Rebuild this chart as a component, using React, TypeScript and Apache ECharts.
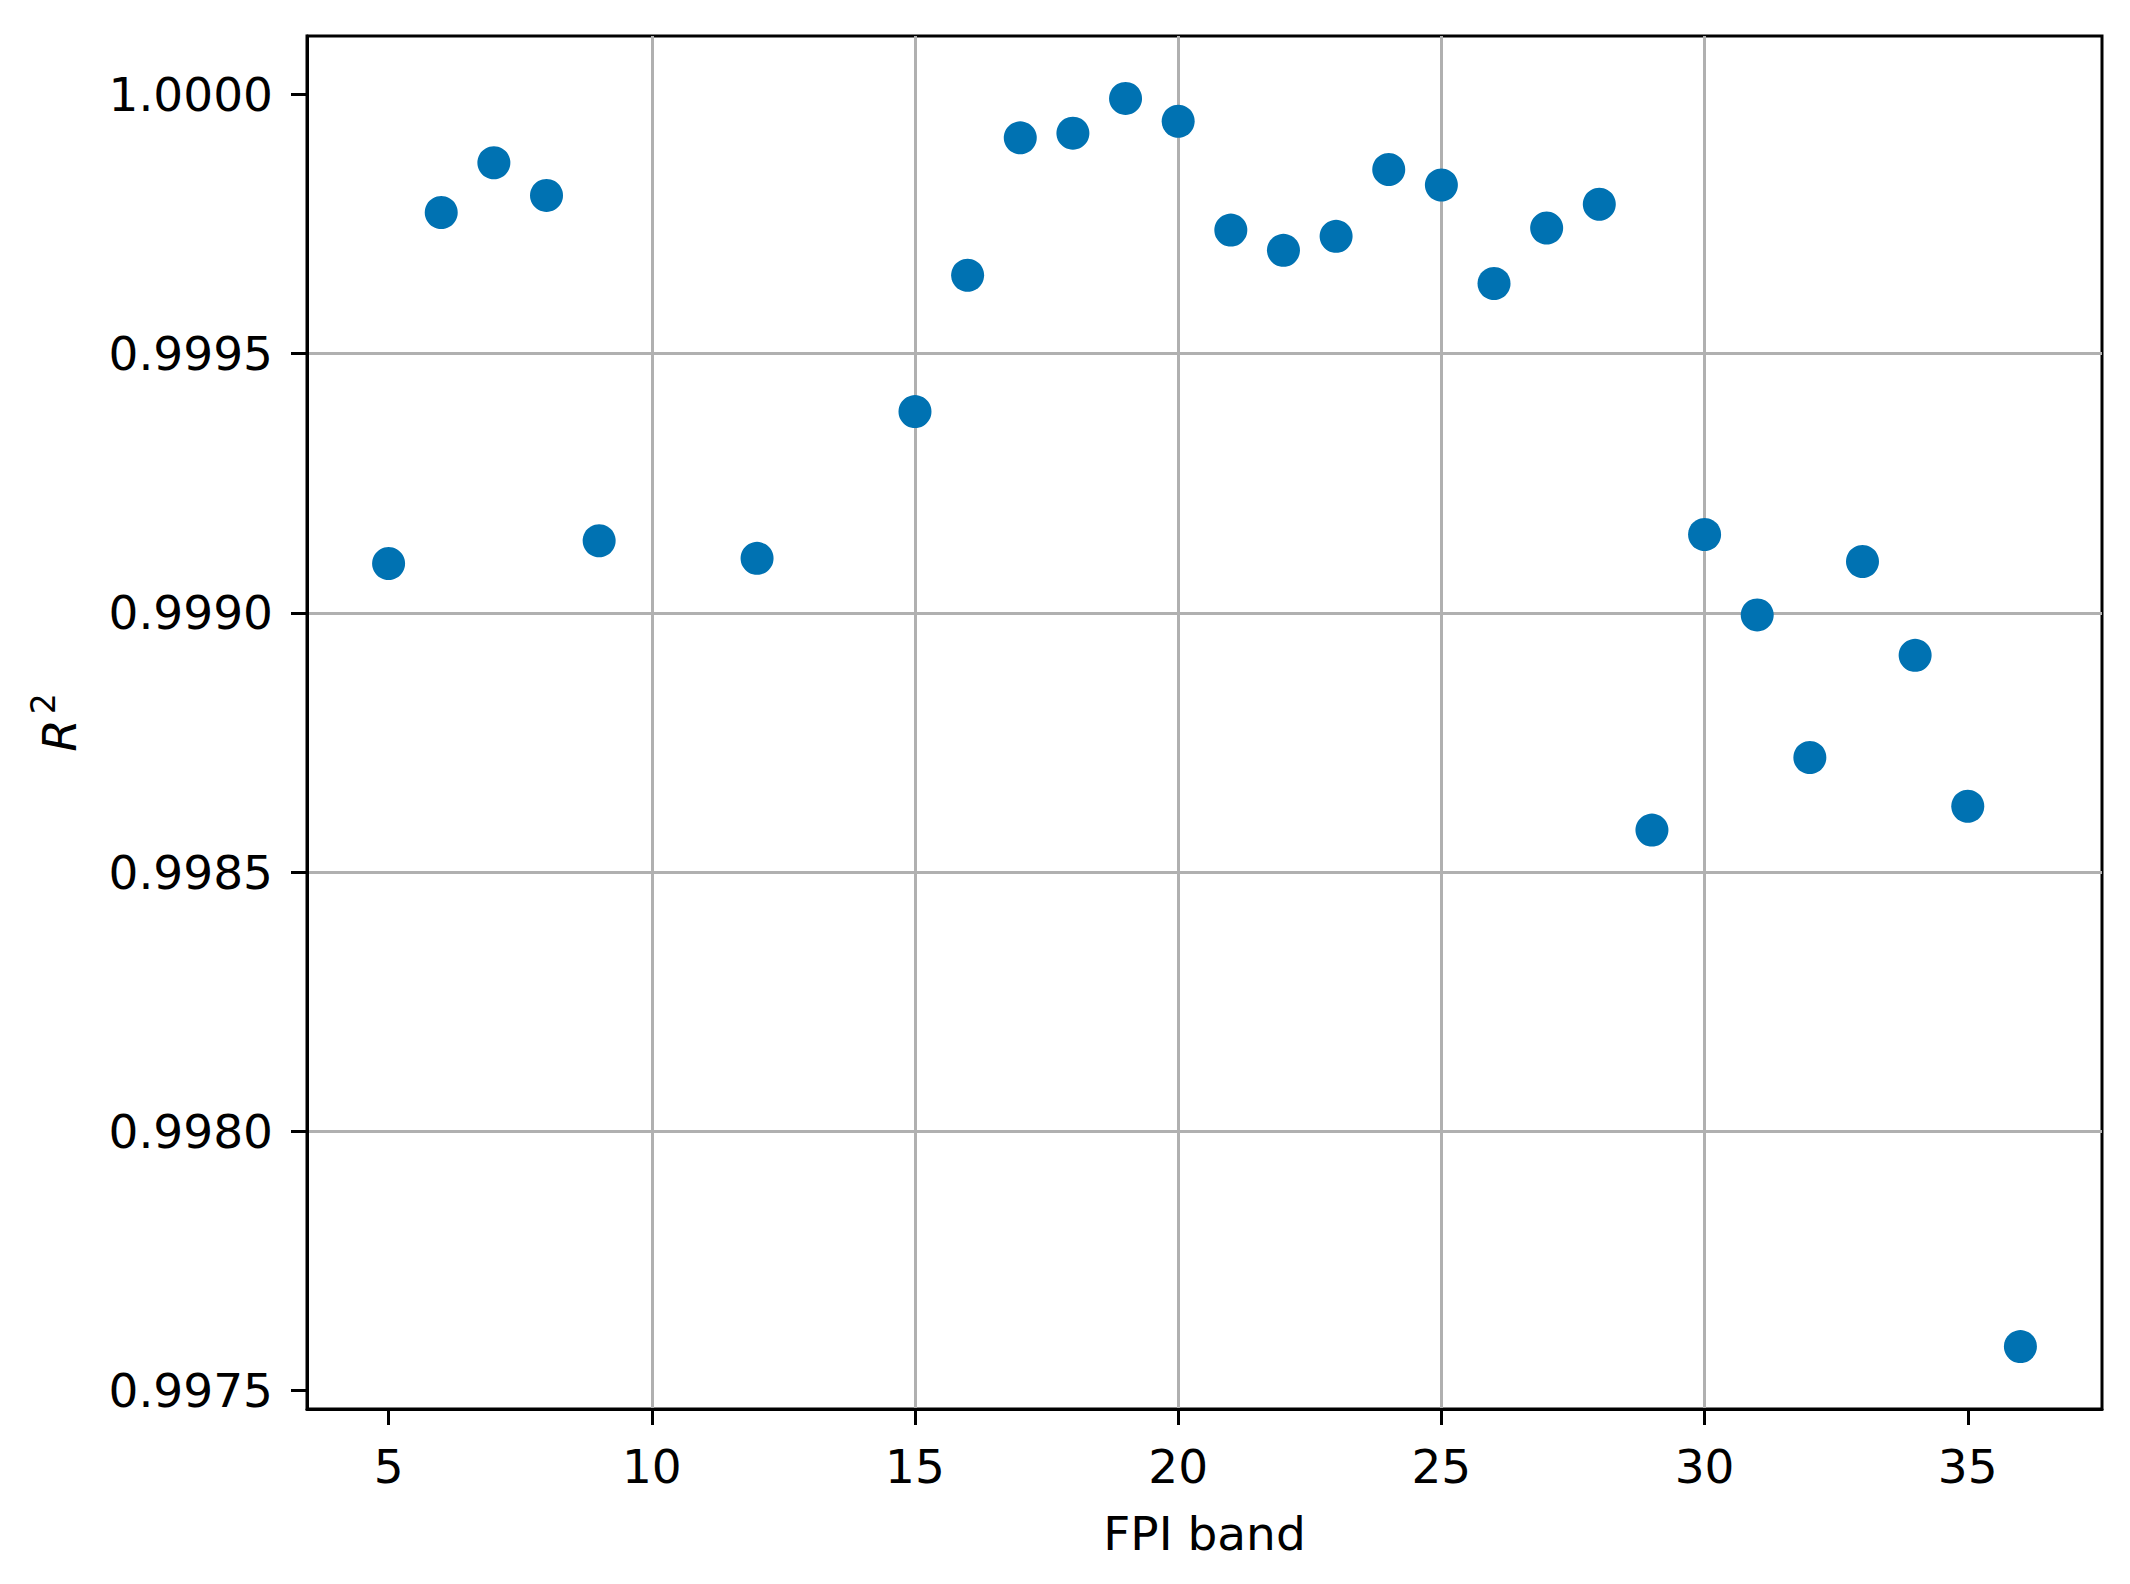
import React, { useEffect, useRef } from "react";
import * as echarts from "echarts";

const bands: number[] = [5, 6, 7, 8, 9, 12, 15, 16, 17, 18, 19, 20, 21, 22, 23, 24, 25, 26, 27, 28, 29, 30, 31, 32, 33, 34, 35, 36];
const r2: number[] = [
  0.999095, 0.999772, 0.999868, 0.999805, 0.999139, 0.999105, 0.999388, 0.999651,
  0.999916, 0.999925, 0.999992, 0.999948, 0.999738, 0.999699, 0.999726, 0.999855,
  0.999825, 0.999635, 0.999742, 0.999788, 0.998581, 0.999151, 0.998996, 0.998721,
  0.999099, 0.998918, 0.998627, 0.997585,
];
const xTicks: number[] = [5, 10, 15, 20, 25, 30, 35];
const yTicks: number[] = [0.9975, 0.998, 0.9985, 0.999, 0.9995, 1.0];
const xLabel = "FPI band";

const FONT = "DejaVu Sans";
const FS = 47;

export default function App() {
  const ref = useRef<HTMLDivElement>(null);
  useEffect(() => {
    document.body.style.margin = "0";
    if (!ref.current) return;
    const chart = echarts.init(ref.current, undefined, { renderer: "svg" });
    const xmin = Math.min(...bands), xmax = Math.max(...bands);
    const ymin = Math.min(...r2), ymax = Math.max(...r2);
    const xm = (xmax - xmin) * 0.05, ym = (ymax - ymin) * 0.05;
    chart.setOption({
      animation: false,
      backgroundColor: "#fff",
      textStyle: { fontFamily: FONT },
      grid: {
        left: 307, right: 28, top: 36, bottom: 175,
        show: true, borderColor: "#000", borderWidth: 3, backgroundColor: "transparent",
        outerBoundsMode: "none",
      },
      xAxis: {
        type: "value",
        min: xmin - xm,
        max: xmax + xm,
        splitNumber: 7,
        name: xLabel,
        nameLocation: "middle",
        nameGap: 101,
        nameTextStyle: { fontFamily: FONT, fontSize: FS, color: "#000" },
        axisLine: { show: true, lineStyle: { color: "#000", width: 3 } },
        axisTick: { show: true, length: 16, lineStyle: { color: "#000", width: 3 }, customValues: xTicks },
        axisLabel: {
          show: true, margin: 34, fontFamily: FONT, fontSize: FS, color: "#000",
          customValues: xTicks, formatter: (v: number) => String(Math.round(v)),
        },
        splitLine: { show: true, showMinLine: false, showMaxLine: false, lineStyle: { color: "#b0b0b0", width: 3 } },
      },
      yAxis: {
        type: "value",
        min: ymin - ym,
        max: ymax + ym,
        splitNumber: 5,
        scale: true,
        name: "{r|R}{s|2}",
        nameLocation: "middle",
        nameGap: 224,
        nameRotate: 90,
        nameTextStyle: {
          color: "#000",
          rich: {
            r: { fontFamily: FONT, fontSize: FS, fontStyle: "italic", color: "#000", padding: [9, 0, 0, 0] },
            s: { fontFamily: FONT, fontSize: 33, color: "#000", verticalAlign: "top", padding: [0, 0, 0, 5] },
          },
        },
        axisLine: { show: true, lineStyle: { color: "#000", width: 3 } },
        axisTick: { show: true, length: 16, lineStyle: { color: "#000", width: 3 }, customValues: yTicks },
        axisLabel: {
          show: true, margin: 34, fontFamily: FONT, fontSize: FS, color: "#000",
          customValues: yTicks, formatter: (v: number) => v.toFixed(4),
        },
        splitLine: { show: true, showMinLine: false, showMaxLine: false, lineStyle: { color: "#b0b0b0", width: 3 } },
      },
      series: [
        {
          type: "scatter",
          data: bands.map((b, i) => [b, r2[i]]),
          symbol: "circle",
          symbolSize: 33,
          itemStyle: { color: "#0072B2", opacity: 1 },
        },
      ],
    });
    return () => chart.dispose();
  }, []);
  return <div ref={ref} style={{ width: 2130, height: 1584 }} />;
}
